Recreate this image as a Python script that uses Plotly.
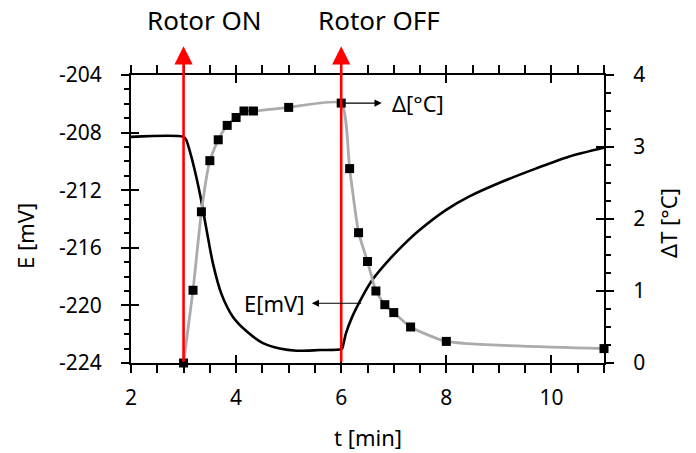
import plotly.graph_objects as go

# E [mV] curve (left axis)
t_E = [2.0, 3.0, 3.05, 3.15, 3.25, 3.33, 3.44, 3.56, 3.72, 3.94, 4.2, 4.5, 4.83, 5.15, 5.6, 6.0,
       6.02, 6.09, 6.21, 6.40, 6.59, 6.85, 7.17, 7.48, 7.99, 8.43, 9.07, 9.70, 10.33, 11.0]
E_mV = [-208.3, -208.3, -208.5, -209.7, -211.2, -212.6, -214.8, -217.1, -219.2, -220.8, -221.8, -222.6,
        -223.0, -223.15, -223.1, -223.05, -222.98, -221.94, -220.78, -219.4, -218.24, -217.08, -215.85,
        -214.8, -213.38, -212.45, -211.4, -210.5, -209.67, -209.05]

# Delta T [°C] (right axis)
t_dT = [3.0, 3.18, 3.34, 3.50, 3.66, 3.83, 4.0, 4.15, 4.33, 5.0, 6.0, 6.16, 6.33, 6.5, 6.66, 6.83,
        7.0, 7.32, 8.0, 11.0]
dT = [0.0, 1.01, 2.10, 2.81, 3.10, 3.30, 3.41, 3.50, 3.50, 3.55, 3.61, 2.70, 1.81, 1.41, 1.00, 0.81,
      0.70, 0.50, 0.30, 0.20]

x_ticks = [2, 4, 6, 8, 10]
x_ticktext = ["2", "4", "6", "8", "10"]
yl_ticks = [-224, -220, -216, -212, -208, -204]
yl_ticktext = ["-224", "-220", "-216", "-212", "-208", "-204"]
yr_ticks = [0, 1, 2, 3, 4]
yr_ticktext = ["0", "1", "2", "3", "4"]

events_t = [3.0, 6.0]
events_label = ["Rotor ON", "Rotor OFF"]
events_label_t = [3.40, 6.71]

FONT = "Noto Sans"
XR = [2, 11]
YL = [-224, -204]
YR = [0, 4]

fig = go.Figure()
fig.add_trace(go.Scatter(x=t_dT, y=dT, yaxis="y2", mode="lines+markers",
                         line=dict(color="#ababab", width=2.8, shape="spline", smoothing=0.5),
                         marker=dict(symbol="square", size=9, color="black"),
                         cliponaxis=False, showlegend=False))
fig.add_trace(go.Scatter(x=t_E, y=E_mV, mode="lines",
                         line=dict(color="black", width=2.6, shape="spline", smoothing=0.8),
                         showlegend=False))

common = dict(showgrid=False, zeroline=False, linecolor="black", linewidth=2,
              tickcolor="black", tickwidth=2,
              tickfont=dict(family=FONT, size=21, color="black"))
inner = dict(ticks="inside", ticklen=8, showticklabels=False, showline=False, showgrid=False,
             zeroline=False, tickcolor="black", tickwidth=2, domain=[0, 1])

fig.update_layout(
    width=696, height=453,
    margin=dict(l=131, r=92, t=75, b=90),
    paper_bgcolor="white", plot_bgcolor="rgba(0,0,0,0)",
    showlegend=False,
    xaxis=dict(range=XR, tickvals=x_ticks, ticktext=x_ticktext, ticks="outside", ticklen=8,
               showline=True, mirror="allticks", ticklabelstandoff=7,
               minor=dict(dtick=0.5, tick0=2, ticks="outside", ticklen=5, tickcolor="black", tickwidth=1.5),
               **common),
    yaxis=dict(range=YL, tickvals=yl_ticks, ticktext=yl_ticktext, ticks="outside", ticklen=8,
               showline=True, ticklabelstandoff=15,
               minor=dict(dtick=1, tick0=-224, ticks="outside", ticklen=5, tickcolor="black", tickwidth=1.5),
               **common),
    yaxis2=dict(range=YR, overlaying="y", side="right", anchor="x", tickvals=yr_ticks, ticktext=yr_ticktext,
                ticks="outside", ticklen=8, showline=True, ticklabelstandoff=15,
                minor=dict(dtick=0.25, tick0=0, ticks="outside", ticklen=5, tickcolor="black", tickwidth=1.5),
                **common),
    # separate coincident subplots that only add the inner half of the crossing major ticks
    xaxis2=dict(range=XR, anchor="y3", side="bottom", tickvals=x_ticks, mirror="ticks", **inner),
    yaxis3=dict(range=YL, anchor="x2", side="left", tickvals=yl_ticks, **inner),
    xaxis3=dict(range=XR, anchor="y4", side="bottom", visible=False, domain=[0, 1]),
    yaxis4=dict(range=YR, anchor="x3", side="right", tickvals=yr_ticks, **inner),
)

# invisible helper traces so the inner-tick axes get drawn
fig.add_trace(go.Scatter(x=XR, y=YL, xaxis="x2", yaxis="y3", mode="markers",
                         marker=dict(opacity=0), showlegend=False, hoverinfo="skip"))
fig.add_trace(go.Scatter(x=XR, y=YR, xaxis="x3", yaxis="y4", mode="markers",
                         marker=dict(opacity=0), showlegend=False, hoverinfo="skip"))

# red event arrows
for te, lab, tl in zip(events_t, events_label, events_label_t):
    fig.add_annotation(x=te, y=1.10, xref="x", yref="paper", ax=0, ay=317, axref="pixel", ayref="pixel",
                       text="", showarrow=True, arrowhead=2, arrowsize=1.4, arrowwidth=2.6,
                       arrowcolor="#ff0000", standoff=0, startstandoff=0)
    fig.add_annotation(x=tl, y=1.19, xref="x", yref="paper", text=lab, showarrow=False,
                       xanchor="center", yanchor="middle", font=dict(family=FONT, size=26, color="black"))

# series label arrows
fig.add_annotation(x=6.77, y=3.61, xref="x", yref="y2", ax=6.0, ay=3.61, axref="x", ayref="y2",
                   text="", showarrow=True, arrowhead=2, arrowsize=1.2, arrowwidth=1.2, arrowcolor="black",
                   standoff=0)
fig.add_annotation(x=6.92, y=3.61, xref="x", yref="y2", text="Δ[°C]", showarrow=False,
                   xanchor="left", yanchor="middle", font=dict(family=FONT, size=22, color="black"))
fig.add_annotation(x=5.44, y=-219.85, xref="x", yref="y", ax=6.41, ay=-219.85, axref="x", ayref="y",
                   text="", showarrow=True, arrowhead=2, arrowsize=1.2, arrowwidth=1.2, arrowcolor="black",
                   standoff=0)
fig.add_annotation(x=5.33, y=-219.85, xref="x", yref="y", text="E[mV]", showarrow=False,
                   xanchor="right", yanchor="middle", font=dict(family=FONT, size=22, color="black"))

# axis titles
fig.add_annotation(x=0.5, y=-0.257, xref="paper", yref="paper", text="t [min]", showarrow=False,
                   xanchor="center", yanchor="middle", font=dict(family=FONT, size=22, color="black"))
fig.add_annotation(x=-0.224, y=0.441, xref="paper", yref="paper", text="E [mV]", showarrow=False,
                   textangle=-90, xanchor="center", yanchor="middle",
                   font=dict(family=FONT, size=22, color="black"))
fig.add_annotation(x=1.135, y=0.486, xref="paper", yref="paper", text="ΔT [°C]", showarrow=False,
                   textangle=-90, xanchor="center", yanchor="middle",
                   font=dict(family=FONT, size=22, color="black"))

fig.write_html("out.html")
